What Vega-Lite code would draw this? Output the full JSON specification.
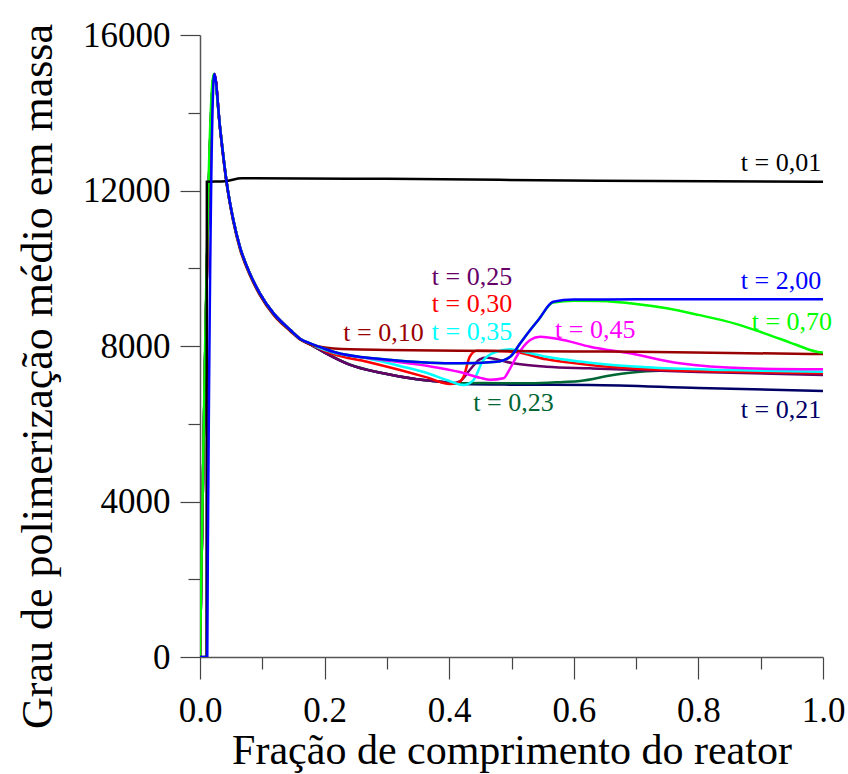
{
  "$schema": "https://vega.github.io/schema/vega-lite/v6.json",
  "width": 623,
  "height": 622,
  "autosize": {"type": "none"},
  "padding": {"left": 200, "top": 35, "right": 25, "bottom": 117},
  "config": {"view": {"stroke": null}, "font": "Liberation Serif", "text": {"font": "Liberation Serif"}, "axis": {"labelFont": "Liberation Serif", "titleFont": "Liberation Serif"}},
  "datasets": {
    "curves": [
      {"s":"t = 0,21","x":0,"y":0},{"s":"t = 0,21","x":0.023,"y":15000},{"s":"t = 0,21","x":0.032,"y":13640},{"s":"t = 0,21","x":0.043,"y":12184},{"s":"t = 0,21","x":0.0535,"y":11240},{"s":"t = 0,21","x":0.064,"y":10553},{"s":"t = 0,21","x":0.08,"y":9868},{"s":"t = 0,21","x":0.096,"y":9354},{"s":"t = 0,21","x":0.118,"y":8840},{"s":"t = 0,21","x":0.145,"y":8411},{"s":"t = 0,21","x":0.161,"y":8180},{"s":"t = 0,21","x":0.177,"y":8040},{"s":"t = 0,21","x":0.2,"y":7830},{"s":"t = 0,21","x":0.24,"y":7520},{"s":"t = 0,21","x":0.294,"y":7297},{"s":"t = 0,21","x":0.348,"y":7142},{"s":"t = 0,21","x":0.385,"y":7082},{"s":"t = 0,21","x":0.423,"y":7022},{"s":"t = 0,21","x":0.5,"y":7005},{"s":"t = 0,21","x":0.626,"y":6996},{"s":"t = 0,21","x":0.8,"y":6920},{"s":"t = 0,21","x":1.0,"y":6842},

      {"s":"t = 0,23","x":0,"y":0},{"s":"t = 0,23","x":0.023,"y":15000},{"s":"t = 0,23","x":0.032,"y":13640},{"s":"t = 0,23","x":0.043,"y":12184},{"s":"t = 0,23","x":0.0535,"y":11240},{"s":"t = 0,23","x":0.064,"y":10553},{"s":"t = 0,23","x":0.08,"y":9868},{"s":"t = 0,23","x":0.096,"y":9354},{"s":"t = 0,23","x":0.118,"y":8840},{"s":"t = 0,23","x":0.145,"y":8411},{"s":"t = 0,23","x":0.161,"y":8180},{"s":"t = 0,23","x":0.177,"y":8040},{"s":"t = 0,23","x":0.2,"y":7835},{"s":"t = 0,23","x":0.24,"y":7525},{"s":"t = 0,23","x":0.294,"y":7300},{"s":"t = 0,23","x":0.348,"y":7145},{"s":"t = 0,23","x":0.385,"y":7082},{"s":"t = 0,23","x":0.412,"y":7040},{"s":"t = 0,23","x":0.449,"y":7050},{"s":"t = 0,23","x":0.53,"y":7040},{"s":"t = 0,23","x":0.583,"y":7075},{"s":"t = 0,23","x":0.61,"y":7100},{"s":"t = 0,23","x":0.663,"y":7253},{"s":"t = 0,23","x":0.717,"y":7350},{"s":"t = 0,23","x":0.797,"y":7382},{"s":"t = 0,23","x":0.9,"y":7330},{"s":"t = 0,23","x":1.0,"y":7265},

      {"s":"t = 0,25","x":0,"y":0},{"s":"t = 0,25","x":0.023,"y":15000},{"s":"t = 0,25","x":0.032,"y":13640},{"s":"t = 0,25","x":0.043,"y":12184},{"s":"t = 0,25","x":0.0535,"y":11240},{"s":"t = 0,25","x":0.064,"y":10553},{"s":"t = 0,25","x":0.08,"y":9868},{"s":"t = 0,25","x":0.096,"y":9354},{"s":"t = 0,25","x":0.118,"y":8840},{"s":"t = 0,25","x":0.145,"y":8411},{"s":"t = 0,25","x":0.161,"y":8180},{"s":"t = 0,25","x":0.177,"y":8040},{"s":"t = 0,25","x":0.2,"y":7830},{"s":"t = 0,25","x":0.24,"y":7520},{"s":"t = 0,25","x":0.294,"y":7297},{"s":"t = 0,25","x":0.348,"y":7142},{"s":"t = 0,25","x":0.385,"y":7082},{"s":"t = 0,25","x":0.405,"y":7045},{"s":"t = 0,25","x":0.417,"y":7090},{"s":"t = 0,25","x":0.433,"y":7382},{"s":"t = 0,25","x":0.449,"y":7657},{"s":"t = 0,25","x":0.46,"y":7707},{"s":"t = 0,25","x":0.48,"y":7640},{"s":"t = 0,25","x":0.503,"y":7554},{"s":"t = 0,25","x":0.556,"y":7467},{"s":"t = 0,25","x":0.626,"y":7425},{"s":"t = 0,25","x":0.8,"y":7330},{"s":"t = 0,25","x":1.0,"y":7255},

      {"s":"t = 0,30","x":0,"y":0},{"s":"t = 0,30","x":0.023,"y":15000},{"s":"t = 0,30","x":0.032,"y":13640},{"s":"t = 0,30","x":0.043,"y":12184},{"s":"t = 0,30","x":0.0535,"y":11240},{"s":"t = 0,30","x":0.064,"y":10553},{"s":"t = 0,30","x":0.08,"y":9868},{"s":"t = 0,30","x":0.096,"y":9354},{"s":"t = 0,30","x":0.118,"y":8840},{"s":"t = 0,30","x":0.145,"y":8411},{"s":"t = 0,30","x":0.161,"y":8180},{"s":"t = 0,30","x":0.177,"y":8045},{"s":"t = 0,30","x":0.2,"y":7880},{"s":"t = 0,30","x":0.214,"y":7790},{"s":"t = 0,30","x":0.268,"y":7596},{"s":"t = 0,30","x":0.321,"y":7382},{"s":"t = 0,30","x":0.364,"y":7194},{"s":"t = 0,30","x":0.401,"y":7022},{"s":"t = 0,30","x":0.412,"y":7040},{"s":"t = 0,30","x":0.423,"y":7210},{"s":"t = 0,30","x":0.433,"y":7724},{"s":"t = 0,30","x":0.444,"y":7878},{"s":"t = 0,30","x":0.503,"y":7852},{"s":"t = 0,30","x":0.556,"y":7657},{"s":"t = 0,30","x":0.626,"y":7511},{"s":"t = 0,30","x":0.717,"y":7400},{"s":"t = 0,30","x":0.85,"y":7340},{"s":"t = 0,30","x":1.0,"y":7297},

      {"s":"t = 0,35","x":0,"y":0},{"s":"t = 0,35","x":0.023,"y":15000},{"s":"t = 0,35","x":0.032,"y":13640},{"s":"t = 0,35","x":0.043,"y":12184},{"s":"t = 0,35","x":0.0535,"y":11240},{"s":"t = 0,35","x":0.064,"y":10553},{"s":"t = 0,35","x":0.08,"y":9868},{"s":"t = 0,35","x":0.096,"y":9354},{"s":"t = 0,35","x":0.118,"y":8840},{"s":"t = 0,35","x":0.145,"y":8411},{"s":"t = 0,35","x":0.161,"y":8180},{"s":"t = 0,35","x":0.177,"y":8050},{"s":"t = 0,35","x":0.2,"y":7900},{"s":"t = 0,35","x":0.214,"y":7830},{"s":"t = 0,35","x":0.268,"y":7683},{"s":"t = 0,35","x":0.321,"y":7485},{"s":"t = 0,35","x":0.369,"y":7280},{"s":"t = 0,35","x":0.396,"y":7125},{"s":"t = 0,35","x":0.423,"y":6996},{"s":"t = 0,35","x":0.439,"y":7125},{"s":"t = 0,35","x":0.455,"y":7640},{"s":"t = 0,35","x":0.476,"y":7852},{"s":"t = 0,35","x":0.498,"y":7914},{"s":"t = 0,35","x":0.519,"y":7852},{"s":"t = 0,35","x":0.556,"y":7724},{"s":"t = 0,35","x":0.61,"y":7600},{"s":"t = 0,35","x":0.626,"y":7570},{"s":"t = 0,35","x":0.717,"y":7451},{"s":"t = 0,35","x":0.85,"y":7380},{"s":"t = 0,35","x":1.0,"y":7340},

      {"s":"t = 0,45","x":0,"y":0},{"s":"t = 0,45","x":0.023,"y":15000},{"s":"t = 0,45","x":0.032,"y":13640},{"s":"t = 0,45","x":0.043,"y":12184},{"s":"t = 0,45","x":0.0535,"y":11240},{"s":"t = 0,45","x":0.064,"y":10553},{"s":"t = 0,45","x":0.08,"y":9868},{"s":"t = 0,45","x":0.096,"y":9354},{"s":"t = 0,45","x":0.118,"y":8840},{"s":"t = 0,45","x":0.145,"y":8411},{"s":"t = 0,45","x":0.161,"y":8180},{"s":"t = 0,45","x":0.177,"y":8060},{"s":"t = 0,45","x":0.2,"y":7930},{"s":"t = 0,45","x":0.214,"y":7850},{"s":"t = 0,45","x":0.294,"y":7640},{"s":"t = 0,45","x":0.364,"y":7490},{"s":"t = 0,45","x":0.417,"y":7330},{"s":"t = 0,45","x":0.45,"y":7180},{"s":"t = 0,45","x":0.466,"y":7130},{"s":"t = 0,45","x":0.487,"y":7168},{"s":"t = 0,45","x":0.497,"y":7400},{"s":"t = 0,45","x":0.508,"y":7724},{"s":"t = 0,45","x":0.53,"y":8154},{"s":"t = 0,45","x":0.546,"y":8238},{"s":"t = 0,45","x":0.583,"y":8154},{"s":"t = 0,45","x":0.626,"y":7981},{"s":"t = 0,45","x":0.69,"y":7811},{"s":"t = 0,45","x":0.77,"y":7554},{"s":"t = 0,45","x":0.877,"y":7425},{"s":"t = 0,45","x":1.0,"y":7400},

      {"s":"t = 0,10","x":0,"y":0},{"s":"t = 0,10","x":0.023,"y":15000},{"s":"t = 0,10","x":0.032,"y":13600},{"s":"t = 0,10","x":0.043,"y":12140},{"s":"t = 0,10","x":0.0535,"y":11190},{"s":"t = 0,10","x":0.064,"y":10500},{"s":"t = 0,10","x":0.08,"y":9820},{"s":"t = 0,10","x":0.096,"y":9310},{"s":"t = 0,10","x":0.118,"y":8800},{"s":"t = 0,10","x":0.145,"y":8380},{"s":"t = 0,10","x":0.161,"y":8160},{"s":"t = 0,10","x":0.177,"y":8040},{"s":"t = 0,10","x":0.193,"y":7981},{"s":"t = 0,10","x":0.241,"y":7914},{"s":"t = 0,10","x":0.3,"y":7900},{"s":"t = 0,10","x":0.417,"y":7878},{"s":"t = 0,10","x":0.6,"y":7860},{"s":"t = 0,10","x":0.7,"y":7850},{"s":"t = 0,10","x":0.85,"y":7820},{"s":"t = 0,10","x":1.0,"y":7793},

      {"s":"t = 0,70","x":0,"y":0},{"s":"t = 0,70","x":0.022,"y":15000},{"s":"t = 0,70","x":0.032,"y":13640},{"s":"t = 0,70","x":0.043,"y":12184},{"s":"t = 0,70","x":0.0535,"y":11240},{"s":"t = 0,70","x":0.064,"y":10553},{"s":"t = 0,70","x":0.08,"y":9868},{"s":"t = 0,70","x":0.096,"y":9354},{"s":"t = 0,70","x":0.118,"y":8840},{"s":"t = 0,70","x":0.145,"y":8411},{"s":"t = 0,70","x":0.161,"y":8180},{"s":"t = 0,70","x":0.177,"y":8068},{"s":"t = 0,70","x":0.2,"y":7930},{"s":"t = 0,70","x":0.214,"y":7852},{"s":"t = 0,70","x":0.294,"y":7657},{"s":"t = 0,70","x":0.369,"y":7570},{"s":"t = 0,70","x":0.417,"y":7554},{"s":"t = 0,70","x":0.476,"y":7596},{"s":"t = 0,70","x":0.498,"y":7724},{"s":"t = 0,70","x":0.514,"y":8068},{"s":"t = 0,70","x":0.53,"y":8411},{"s":"t = 0,70","x":0.543,"y":8668},{"s":"t = 0,70","x":0.567,"y":9120},{"s":"t = 0,70","x":0.6,"y":9165},{"s":"t = 0,70","x":0.642,"y":9155},{"s":"t = 0,70","x":0.7,"y":9080},{"s":"t = 0,70","x":0.749,"y":8970},{"s":"t = 0,70","x":0.8,"y":8800},{"s":"t = 0,70","x":0.86,"y":8570},{"s":"t = 0,70","x":0.9,"y":8360},{"s":"t = 0,70","x":0.936,"y":8154},{"s":"t = 0,70","x":0.958,"y":8025},{"s":"t = 0,70","x":0.99,"y":7852},{"s":"t = 0,70","x":1.0,"y":7830},

      {"s":"t = 0,01","x":0,"y":0},{"s":"t = 0,01","x":0.0105,"y":0},{"s":"t = 0,01","x":0.011,"y":12226},{"s":"t = 0,01","x":0.04,"y":12240},{"s":"t = 0,01","x":0.067,"y":12313},{"s":"t = 0,01","x":0.3,"y":12300},{"s":"t = 0,01","x":0.64,"y":12250},{"s":"t = 0,01","x":1.0,"y":12226},

      {"s":"t = 2,00","x":0,"y":0},{"s":"t = 2,00","x":0.0117,"y":0},{"s":"t = 2,00","x":0.0125,"y":2500},{"s":"t = 2,00","x":0.023,"y":15000},{"s":"t = 2,00","x":0.032,"y":13640},{"s":"t = 2,00","x":0.043,"y":12184},{"s":"t = 2,00","x":0.0535,"y":11240},{"s":"t = 2,00","x":0.064,"y":10553},{"s":"t = 2,00","x":0.08,"y":9868},{"s":"t = 2,00","x":0.096,"y":9354},{"s":"t = 2,00","x":0.118,"y":8840},{"s":"t = 2,00","x":0.145,"y":8411},{"s":"t = 2,00","x":0.161,"y":8180},{"s":"t = 2,00","x":0.177,"y":8068},{"s":"t = 2,00","x":0.2,"y":7930},{"s":"t = 2,00","x":0.214,"y":7852},{"s":"t = 2,00","x":0.294,"y":7657},{"s":"t = 2,00","x":0.369,"y":7570},{"s":"t = 2,00","x":0.417,"y":7554},{"s":"t = 2,00","x":0.476,"y":7596},{"s":"t = 2,00","x":0.498,"y":7724},{"s":"t = 2,00","x":0.514,"y":8068},{"s":"t = 2,00","x":0.53,"y":8411},{"s":"t = 2,00","x":0.543,"y":8668},{"s":"t = 2,00","x":0.567,"y":9138},{"s":"t = 2,00","x":0.6,"y":9195},{"s":"t = 2,00","x":0.7,"y":9200},{"s":"t = 2,00","x":1.0,"y":9205}
    ],
    "labelsRight": [
      {"s":"t = 0,01","x":0.997,"y":12500},
      {"s":"t = 2,00","x":0.997,"y":9458},
      {"s":"t = 0,21","x":0.997,"y":6139}
    ],
    "labelsLeft": [
      {"s":"t = 0,25","x":0.372,"y":9568},
      {"s":"t = 0,30","x":0.372,"y":8882},
      {"s":"t = 0,35","x":0.372,"y":8153},
      {"s":"t = 0,10","x":0.23,"y":8136},
      {"s":"t = 0,23","x":0.4387,"y":6335},
      {"s":"t = 0,45","x":0.57,"y":8197},
      {"s":"t = 0,70","x":0.8856,"y":8411}
    ]
  },
  "encoding": {
    "x": {
      "field": "x", "type": "quantitative",
      "scale": {"domain": [0, 1], "nice": false, "zero": false},
      "axis": {
        "values": [0,0.1,0.2,0.3,0.4,0.5,0.6,0.7,0.8,0.9,1.0],
        "format": ".1f",
        "labelExpr": "round(datum.value*10) % 2 === 0 ? datum.label : ''",
        "tickSize": {"condition": {"test": "round(datum.value*10) % 2 === 0", "value": 22}, "value": 12},
        "labelPadding": 14,
        "labelFont": "Liberation Serif",
        "labelFontSize": 35,
        "labelColor": "#000000",
        "labelFlush": false,
        "labelOverlap": false,
        "tickColor": "#444444",
        "tickWidth": 1.2,
        "domainColor": "#555555",
        "domainWidth": 1.5,
        "grid": false,
        "title": "Fração de comprimento do reator",
        "titleFont": "Liberation Serif",
        "titleFontSize": 42,
        "titleFontWeight": "normal",
        "titleColor": "#000000",
        "titlePadding": 2
      }
    },
    "y": {
      "field": "y", "type": "quantitative",
      "scale": {"domain": [0, 16000], "nice": false},
      "axis": {
        "values": [0,2000,4000,6000,8000,10000,12000,14000,16000],
        "format": "d",
        "labelExpr": "datum.value % 4000 === 0 ? datum.label : ''",
        "tickSize": {"condition": {"test": "datum.value % 4000 === 0", "value": 20}, "value": 12},
        "labelPadding": 10,
        "labelFont": "Liberation Serif",
        "labelFontSize": 35,
        "labelColor": "#000000",
        "labelFlush": false,
        "labelOverlap": false,
        "tickColor": "#444444",
        "tickWidth": 1.2,
        "domainColor": "#555555",
        "domainWidth": 1.5,
        "grid": false,
        "title": "Grau de polimerização médio em massa",
        "titleFont": "Liberation Serif",
        "titleFontSize": 44,
        "titleFontWeight": "normal",
        "titleColor": "#000000",
        "titlePadding": 22,
        "titleY": 341
      }
    },
    "color": {
      "field": "s", "type": "nominal", "legend": null,
      "scale": {
        "domain": ["t = 0,21","t = 0,23","t = 0,25","t = 0,30","t = 0,35","t = 0,45","t = 0,10","t = 0,70","t = 0,01","t = 2,00"],
        "range": ["#000066","#006633","#660066","#FF0000","#00FFFF","#FF00FF","#990000","#00FF00","#000000","#0000FF"]
      }
    }
  },
  "layer": [
    {"data": {"name": "curves"}, "mark": {"type": "line", "strokeWidth": 2.5, "clip": true, "interpolate": "monotone"}},
    {"data": {"name": "labelsRight"}, "mark": {"type": "text", "align": "right", "baseline": "alphabetic", "fontSize": 26, "font": "Liberation Serif"}, "encoding": {"text": {"field": "s"}}},
    {"data": {"name": "labelsLeft"}, "mark": {"type": "text", "align": "left", "baseline": "alphabetic", "fontSize": 26, "font": "Liberation Serif"}, "encoding": {"text": {"field": "s"}}}
  ]
}
